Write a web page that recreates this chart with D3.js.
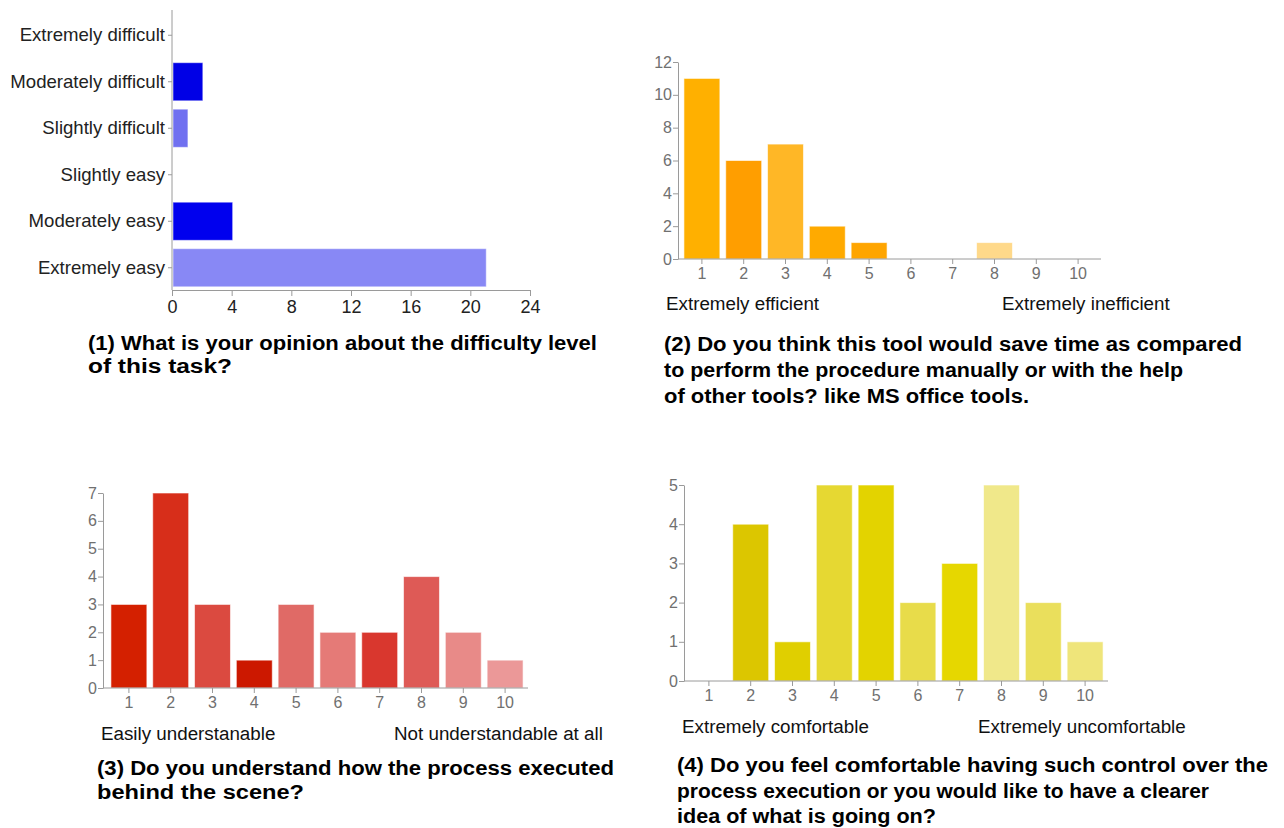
<!DOCTYPE html>
<html><head><meta charset="utf-8">
<script src="https://cdn.jsdelivr.net/npm/d3@7"></script>
<style>body{margin:0;background:#fff}svg{display:block;font-family:"Liberation Sans",Arial,sans-serif}</style>
</head><body><svg id="c" width="1284" height="828"></svg>
<script>
// Panel 1 data
const q1Categories = ["Extremely difficult","Moderately difficult","Slightly difficult","Slightly easy","Moderately easy","Extremely easy"];
const q1Values = [0,2,1,0,4,21];
const q1Colors = ["#0000e6","#0000e6","#7070f0","#8888f5","#0000ee","#8888f5"];
const q1Ticks = [0,4,8,12,16,20,24];
// Panel 2
const scaleCats = ["1","2","3","4","5","6","7","8","9","10"];
const q2Values = [11,6,7,2,1,0,0,1,0,0];
const q2Colors = ["#ffb000","#ff9e00","#ffb726","#ffaa00","#ffa500","#ffb000","#ffb000","#ffd98a","#ffb000","#ffb000"];
const q2Ticks = [0,2,4,6,8,10,12];
// Panel 3
const q3Values = [3,7,3,1,3,2,2,4,2,1];
const q3Colors = ["#d42000","#d72e1a","#db4a40","#cc1800","#e06a66","#e57a77","#d9372e","#de5a56","#e88a88","#eb9898"];
const q3Ticks = [0,1,2,3,4,5,6,7];
// Panel 4
const q4Values = [0,4,1,5,5,2,3,5,2,1];
const q4Colors = ["#dcc600","#dcc600","#e0cf00","#e6d832","#e3d300","#e8dc4a","#e6d700","#f0e88a","#eadf5c","#efe57a"];
const q4Ticks = [0,1,2,3,4,5];

const svg = d3.select("#c");
const axisColor = "#9a9a9a", tickText = "#707070";

// ---------- Panel 1 (horizontal bars)
{
  const x = d3.scaleLinear().domain([0,24]).range([172,530]);
  const y = d3.scaleBand().domain(q1Categories).range([12,291]).paddingInner(0.18).paddingOuter(0.09);
  const g = svg.append("g");
  g.selectAll("rect").data(q1Categories).join("rect")
    .attr("x", x(0)+1).attr("y", d=>y(d))
    .attr("width", (d,i)=>Math.max(0,x(q1Values[i])-x(0)))
    .attr("height", y.bandwidth())
    .attr("fill",(d,i)=>q1Colors[i]).attr("stroke","rgba(255,255,255,0.5)").attr("stroke-width",1);
  const ax = g.append("g").attr("transform","translate(0,290)")
    .call(d3.axisBottom(x).tickValues(q1Ticks).tickSize(6).tickPadding(4));
  ax.select(".domain").attr("stroke",axisColor);
  ax.selectAll(".tick line").attr("stroke",axisColor);
  ax.selectAll("text").attr("fill","#222").style("font-size","18px");
  const ay = g.append("g").attr("transform","translate(172,0)")
    .call(d3.axisLeft(y).tickSize(4).tickPadding(3).tickSizeOuter(0));
  ay.select(".domain").attr("stroke",axisColor).attr("d","M0,10V290");
  ay.selectAll(".tick line").attr("stroke",axisColor);
  ay.selectAll("text").attr("fill","#222").style("font-size","18.6px");
}

function vbar(cfg){
  const x = d3.scaleBand().domain(scaleCats).range(cfg.xr).paddingInner(0.14).paddingOuter(0.07);
  const y = d3.scaleLinear().domain([0,d3.max(cfg.ticks)]).range(cfg.yr);
  const g = svg.append("g");
  g.selectAll("rect").data(scaleCats).join("rect")
    .attr("x", d=>x(d)).attr("width", x.bandwidth())
    .attr("y",(d,i)=>y(cfg.values[i])).attr("height",(d,i)=>y(0)-y(cfg.values[i]))
    .attr("fill",(d,i)=>cfg.colors[i]).attr("stroke","rgba(255,255,255,0.6)").attr("stroke-width",1);
  const ax = g.append("g").attr("transform",`translate(0,${cfg.yr[0]})`)
    .call(d3.axisBottom(x).tickSize(5).tickPadding(4).tickSizeOuter(0));
  ax.select(".domain").attr("stroke",axisColor).attr("d",`M${cfg.axisX},0H${cfg.xr[1]+2}`);
  ax.selectAll(".tick line").attr("stroke",axisColor);
  ax.selectAll("text").attr("fill",tickText).style("font-size","16px");
  const ay = g.append("g").attr("transform",`translate(${cfg.axisX},0)`)
    .call(d3.axisLeft(y).tickValues(cfg.ticks).tickSize(5).tickPadding(1).tickSizeOuter(0).tickFormat(d3.format("d")));
  ay.select(".domain").attr("stroke",axisColor);
  ay.selectAll(".tick line").attr("stroke",axisColor);
  ay.selectAll("text").attr("fill",tickText).style("font-size","16px");
  cfg.labels.forEach(l=>g.append("text").attr("x",l[0]).attr("y",l[1]).text(l[2]).attr("fill","#111").style("font-size","18.8px"));
}
vbar({values:q2Values,colors:q2Colors,ticks:q2Ticks,xr:[681,1099],yr:[259,62],axisX:678,
  labels:[[666,310,"Extremely efficient"],[1002,310,"Extremely inefficient"]]});
vbar({values:q3Values,colors:q3Colors,ticks:q3Ticks,xr:[108,526],yr:[688,493],axisX:103,
  labels:[[101,740,"Easily understanable"],[394,740,"Not understandable at all"]]});
vbar({values:q4Values,colors:q4Colors,ticks:q4Ticks,xr:[688,1106],yr:[681,485],axisX:684,
  labels:[[682,733,"Extremely comfortable"],[978,733,"Extremely uncomfortable"]]});

// Titles
const titles = [
  {x:88, y:[350,373], w:[509,144], lines:["(1) What is your opinion about the difficulty level","of this task?"]},
  {x:664,y:[351,377,403], w:[578,519,365], lines:["(2) Do you think this tool would save time as compared","to perform the procedure manually or with the help","of other tools? like MS office tools."]},
  {x:97, y:[775,799], w:[517,207], lines:["(3) Do you understand how the process executed","behind the scene?"]},
  {x:677,y:[772,798,823], w:[591,532,259], lines:["(4) Do you feel comfortable having such control over the","process execution or you would like to have a clearer","idea of what is going on?"]}
];
titles.forEach(t=>t.lines.forEach((l,i)=>svg.append("text").attr("x",t.x).attr("y",t.y[i]).text(l)
  .attr("textLength",t.w[i]).attr("lengthAdjust","spacingAndGlyphs")
  .attr("fill","#000").style("font-size","20px").style("font-weight","bold")));
</script></body></html>
